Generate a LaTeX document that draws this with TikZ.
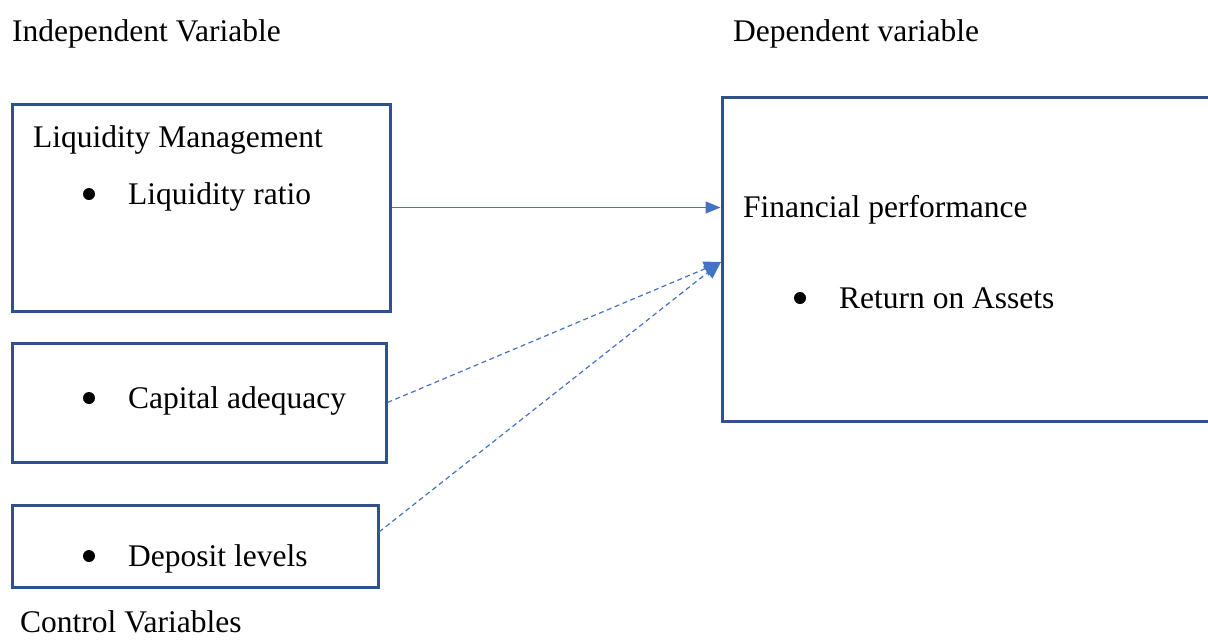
\documentclass[tikz,border=0pt]{standalone}
\usepackage{fontspec}
\setmainfont{Liberation Serif}
\usetikzlibrary{arrows.meta,calc}
\definecolor{boxblue}{HTML}{2F528F}
\definecolor{arrblue}{HTML}{4472C4}
\begin{document}
\begin{tikzpicture}[x=1pt,y=-1pt,
  box/.style={draw=boxblue,line width=3pt,rectangle,inner sep=0pt},
  txt/.style={anchor=base west,inner sep=0pt,font=\fontsize{31.5}{38}\selectfont},
  bul/.style={circle,fill=black,inner sep=0pt,minimum size=12pt},
  solidarr/.style={draw=arrblue,line width=1.3pt,-{Triangle[length=15pt,width=12pt]}},
  dasharr/.style={draw=arrblue,line width=1.2pt,dash pattern=on 5pt off 3.5pt,-{Triangle[length=17pt,width=15pt]}}]
\useasboundingbox (0,0) rectangle (1208,640);
% boxes
\node[box,minimum width=378pt,minimum height=207pt] (liq) at (201,207.5) {};
\node[box,minimum width=374pt,minimum height=119pt] (cap) at (199,402.5) {};
\node[box,minimum width=366pt,minimum height=82pt] (dep) at (195,546) {};
\node[box,minimum width=530pt,minimum height=324pt] (fin) at (987,259) {};
% headings
\node[txt] (indep) at (12,41) {Independent Variable};
\node[txt] (depv) at (733,41) {Dependent variable};
\node[txt] (ctrl) at (20,632) {Control Variables};
% box texts
\node[txt] (liqt) at (33,147) {Liquidity Management};
\node[bul] (b1) at (89,194) {};
\node[txt] (liqr) at (128,204) {Liquidity ratio};
\node[bul] (b2) at (89,398) {};
\node[txt] (capt) at (128,408) {Capital adequacy};
\node[bul] (b3) at (89,556) {};
\node[txt] (dept) at (128,566) {Deposit levels};
\node[txt] (fint) at (743,217) {Financial performance};
\node[bul] (b4) at (800,298) {};
\node[txt] (roa) at (839,308) {Return on Assets};
% connectors
\coordinate (tipd) at (721,262);
\coordinate (depout) at (379,532);
\draw[solidarr] (liq.east) -- (liq.east -| fin.west);
\draw[dasharr] (cap.east) -- (tipd);
\draw[dasharr] (depout) -- (tipd);
\end{tikzpicture}
\end{document}
